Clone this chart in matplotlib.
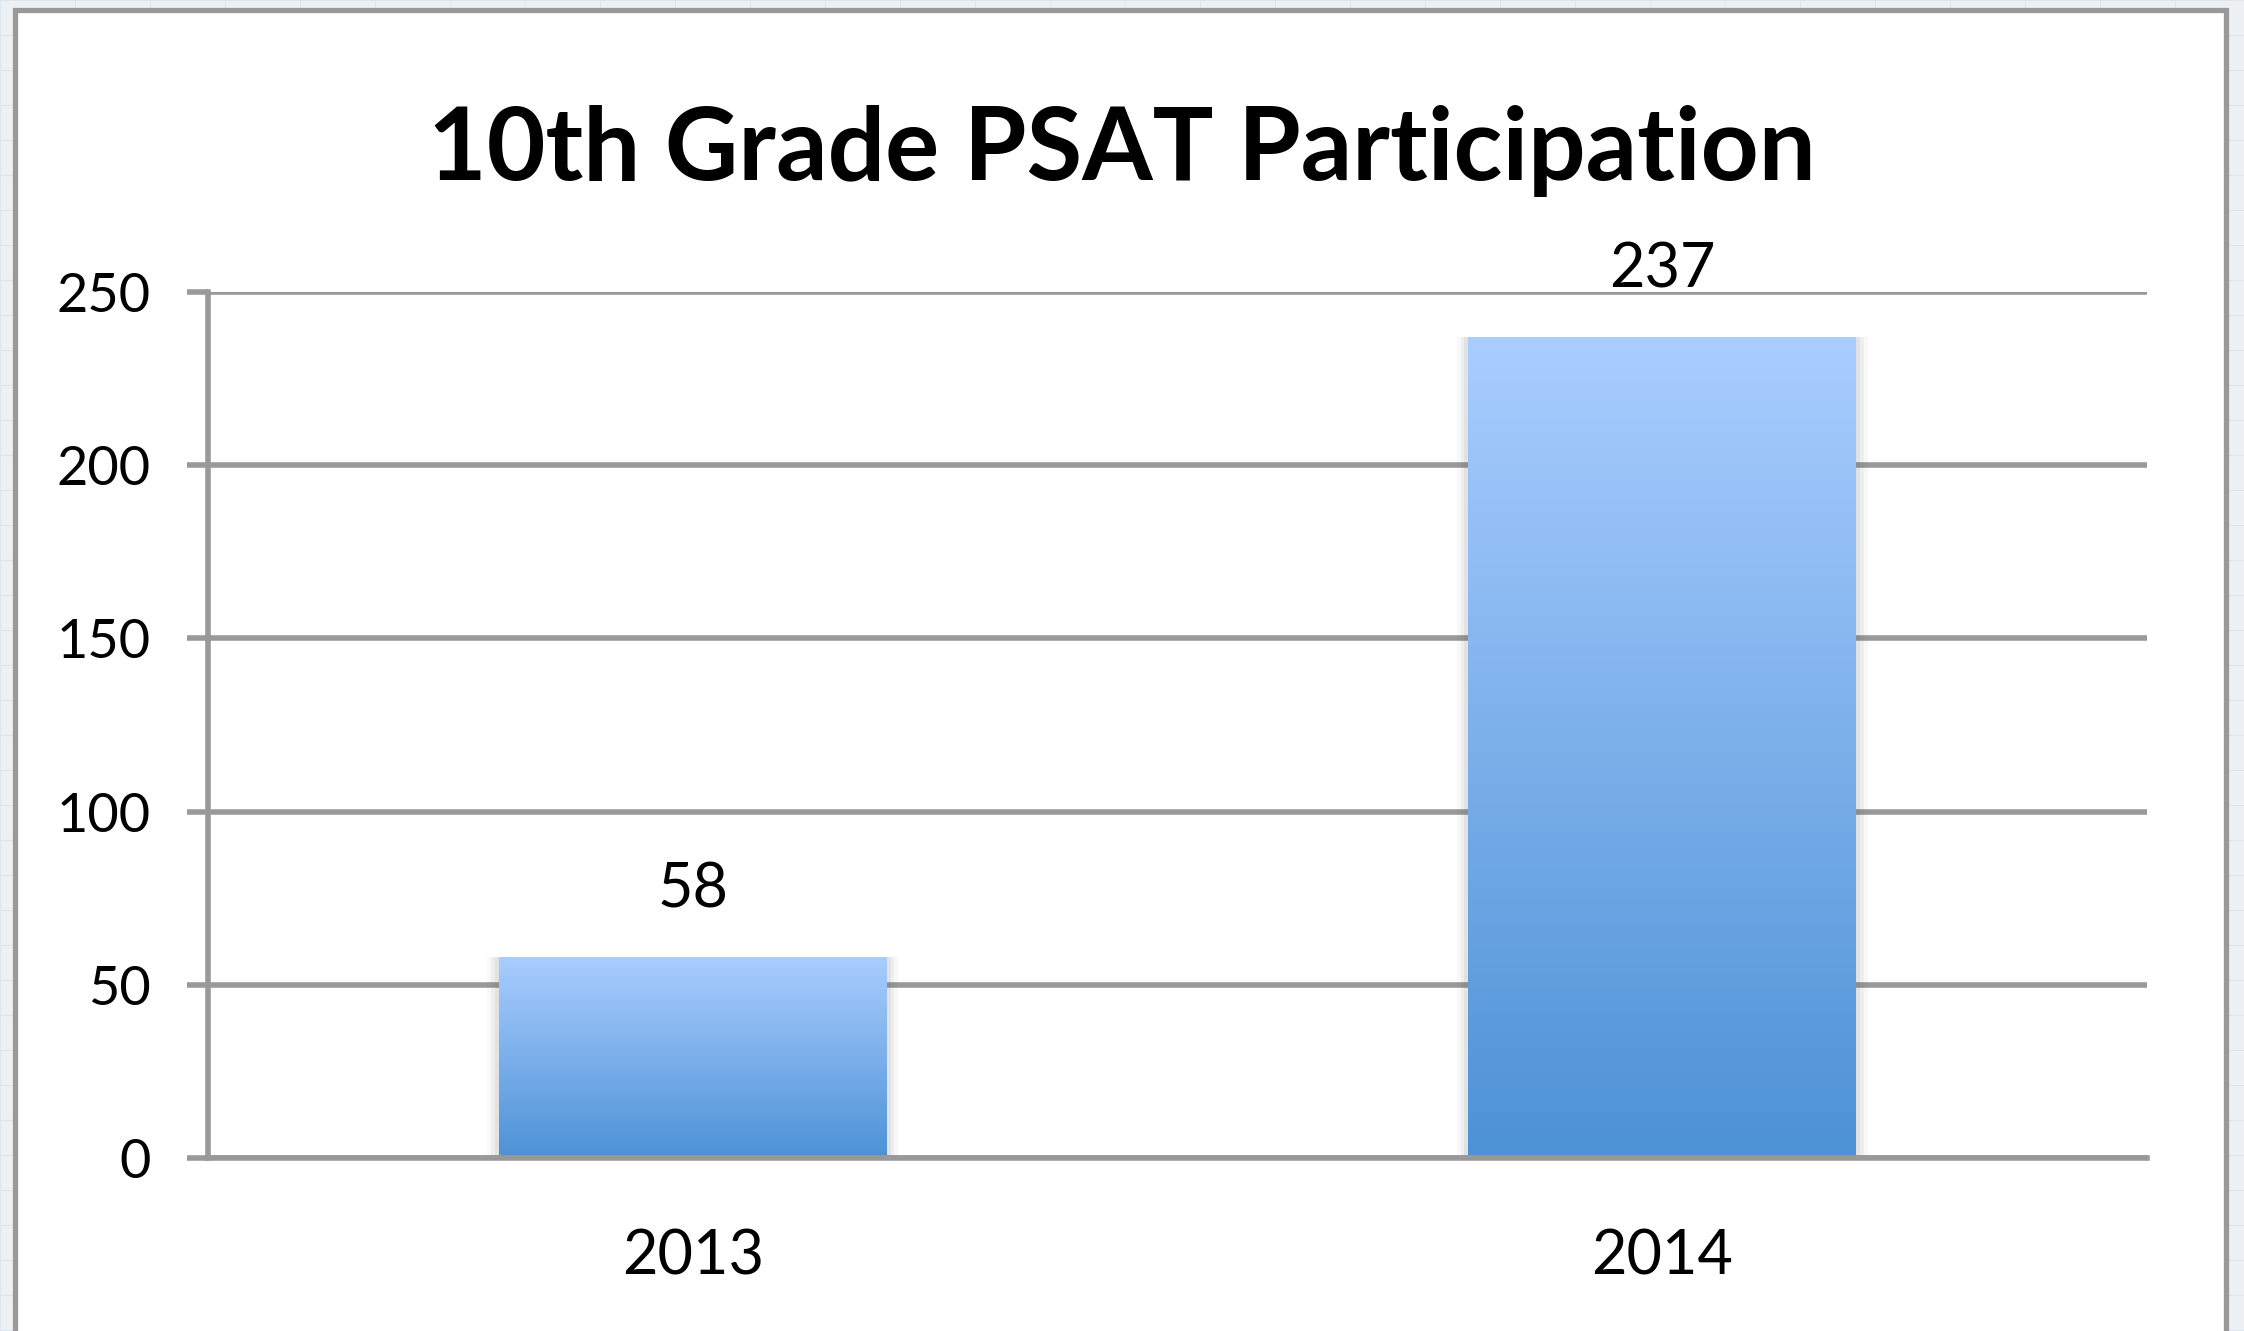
import numpy as np
import matplotlib
matplotlib.use("Agg")
import matplotlib.pyplot as plt
from matplotlib.patches import Rectangle
from matplotlib.colors import LinearSegmentedColormap

# ---- data ----
categories = ["2013", "2014"]
values = [58, 237]
yticks = [0, 50, 100, 150, 200, 250]
title = "10th Grade PSAT Participation"

plt.rcParams['font.family'] = ['Lato', 'DejaVu Sans']

W, H = 2244, 1331
fig = plt.figure(figsize=(W / 100, H / 100), dpi=100)
fig.patch.set_facecolor('#eef1f4')

grey = '#999999'

# faint spreadsheet grid in background
for yy in np.arange(0, H, 35):
    fig.add_artist(plt.Line2D([0, 1], [1 - yy / H] * 2, color='#dde6ee', lw=0.8, zorder=0))
for xx in np.arange(0, W, 75):
    fig.add_artist(plt.Line2D([xx / W] * 2, [0, 1], color='#dde6ee', lw=0.8, zorder=0))

# chart frame (white panel with grey border)
fx0, fx1 = 14.5 / W, 2225.5 / W
fy1 = 1 - 9.5 / H
frame = Rectangle((fx0, -0.05), fx1 - fx0, fy1 + 0.05, transform=fig.transFigure,
                  facecolor='white', edgecolor=grey, linewidth=3.8, zorder=0.5)
fig.add_artist(frame)

ax = fig.add_axes([208 / W, 1 - 1158 / H, (2147 - 208) / W, (1158 - 292) / H])
ax.set_facecolor('none')
ax.set_zorder(1)

x = np.arange(len(categories))
bars = ax.bar(x, values, width=0.4, color='none', edgecolor='none', zorder=3)

cmap = LinearSegmentedColormap.from_list('blu', ['#4d92d6', '#a9cdff'])
grad = np.linspace(0, 1, 256).reshape(-1, 1)
for b in bars:
    bx, by = b.get_x(), b.get_y()
    bw, bh = b.get_width(), b.get_height()
    # soft shadow
    for k, a in zip([0.012, 0.008, 0.004], [0.04, 0.06, 0.08]):
        ax.add_patch(Rectangle((bx - k, by), bw + 2 * k, bh, facecolor='#555555',
                               edgecolor='none', alpha=a, zorder=2.5))
    im = ax.imshow(grad, extent=(bx, bx + bw, by, by + bh), origin='lower', cmap=cmap,
                   aspect='auto', zorder=3, interpolation='bilinear')
    im.set_clip_path(b)
    ax.annotate(str(int(bh)), (bx + bw / 2, bh), xytext=(0, 36), textcoords='offset points',
                ha='center', va='baseline', fontsize=44, color='black', zorder=5)

ax.set_xlim(-0.5, len(categories) - 0.5)
ax.set_ylim(0, 250)
ax.set_yticks(yticks)
ax.set_xticks(x)
ax.set_xticklabels(categories)

ax.yaxis.grid(True, color=grey, linewidth=4, zorder=1)
ax.set_axisbelow(True)
for s in ['top', 'right']:
    ax.spines[s].set_visible(False)
for s in ['left', 'bottom']:
    ax.spines[s].set_color(grey)
    ax.spines[s].set_linewidth(4)
    ax.spines[s].set_zorder(4)

ax.tick_params(axis='y', length=15, width=4, color=grey, pad=26, labelsize=39, labelcolor='black')
ax.tick_params(axis='x', length=0, pad=51, labelsize=44, labelcolor='black')

fig.text(0.5, 1 - 180 / H, title, ha='center', va='baseline', fontsize=73,
         fontweight='bold', color='black')

fig.savefig('out.png', dpi=100, facecolor=fig.get_facecolor())
